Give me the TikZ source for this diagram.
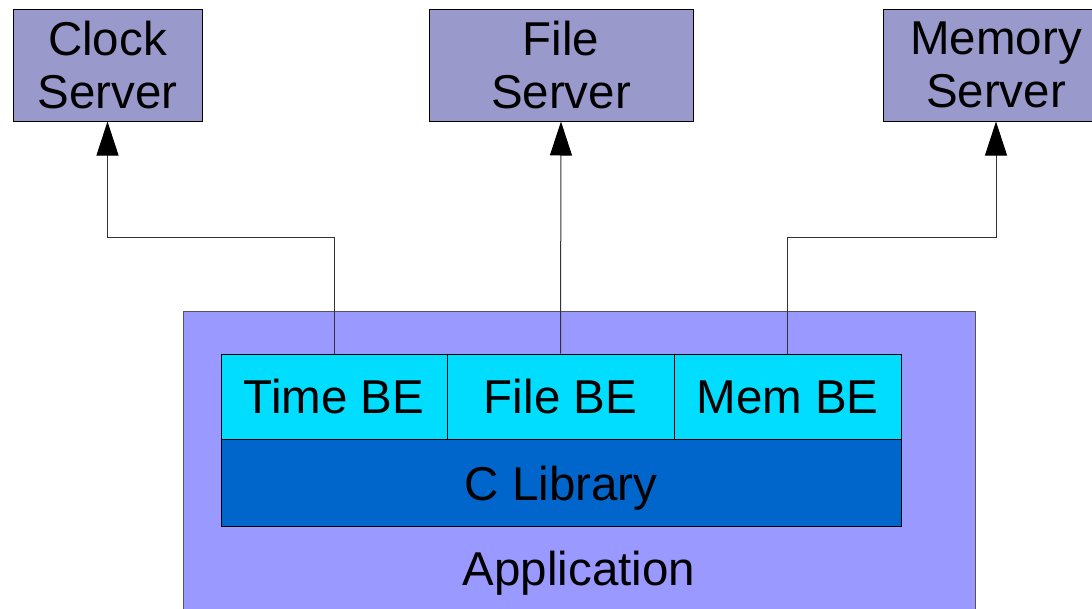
\documentclass[tikz,border=0pt]{standalone}
\usepackage{fontspec}
\setmainfont{Liberation Sans}
\usetikzlibrary{arrows.meta}
\definecolor{serverfill}{HTML}{9999CC}
\definecolor{appfill}{HTML}{9999FF}
\definecolor{befill}{HTML}{00DDFF}
\definecolor{libfill}{HTML}{0066CC}
\definecolor{appedge}{HTML}{555555}
\tikzset{
  box/.style={draw=black, line width=1pt, rectangle, inner sep=0pt, align=center,
    font=\fontsize{47.5}{53}\selectfont},
  server/.style={box, fill=serverfill, minimum height=112pt},
  bebox/.style={box, fill=befill, minimum height=86pt},
  libbox/.style={box, fill=libfill, minimum height=87pt, text depth=0pt},
  appbox/.style={draw=appedge, line width=1pt, fill=appfill, rectangle, inner sep=0pt},
  link/.style={draw=black!80, line width=1pt, -{Triangle[length=34pt,width=22pt,color=black]}}
}
\begin{document}
\begin{tikzpicture}[x=1pt,y=-1pt]
  \useasboundingbox (0,0) rectangle (1092,608);
  \clip (0,0) rectangle (1092,608);
  % servers
  \node[server, minimum width=189pt] (clock) at (107.5,65) {Clock\\Server};
  \node[server, minimum width=264pt] (file) at (561,65) {File\\Server};
  \node[server, minimum width=226pt] (mem) at (996,65) {Memory\\Server};
  % application with its library stack
  \node[appbox, minimum width=792pt, minimum height=302pt] (app) at (579,462) {};
  \node[font=\fontsize{47.5}{53}\selectfont, inner sep=0pt, anchor=base] (apptext) at (579,585) {Application};
  \node[bebox, minimum width=226pt] (tbe) at (334,397) {Time BE};
  \node[bebox, minimum width=227pt] (fbe) at (560.5,397) {File BE};
  \node[bebox, minimum width=227pt] (mbe) at (787.5,397) {Mem BE};
  \node[libbox, minimum width=680pt] (clib) at (561,483) {C Library};
  % back-end connections
  \coordinate (bend) at (0,237);
  \draw[link] (tbe.north) -- (tbe.north |- bend) -| (clock.south);
  \draw[link] (fbe.north) -- (file.south);
  \draw[link] (mbe.north) -- (mbe.north |- bend) -| (mem.south);
\end{tikzpicture}
\end{document}
